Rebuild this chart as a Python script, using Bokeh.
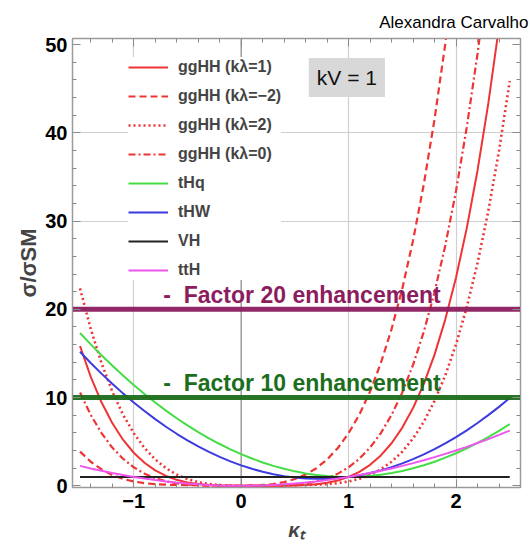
from bokeh.plotting import figure
from bokeh.models import (Range1d, Span, Label, Legend, LegendItem, LinearAxis,
                          FixedTicker)
from bokeh.embed import file_html
from bokeh.resources import INLINE

# kappa_t scan points
kappa_t = [-1.5, -1.4, -1.3, -1.2, -1.1, -1.0, -0.9, -0.8, -0.7, -0.6, -0.5,
           -0.4, -0.3, -0.2, -0.1, 0.0, 0.1, 0.2, 0.3, 0.4, 0.5, 0.6, 0.7,
           0.8, 0.9, 1.0, 1.1, 1.2, 1.3, 1.4, 1.5, 1.6, 1.7, 1.8, 1.9, 2.0,
           2.1, 2.2, 2.3, 2.4, 2.5]

# sigma / sigma_SM for each production mode (kV = 1)
gghh_kl1 = [15.84, 12.34, 9.46, 7.11, 5.22, 3.74, 2.60, 1.74, 1.11, 0.67, 0.37,
            0.19, 0.08, 0.03, 0.00, 0.00, 0.00, 0.00, 0.01, 0.01, 0.03, 0.08, 0.17,
            0.34, 0.60, 1.00, 1.58, 2.37, 3.44, 4.82, 6.59, 8.81, 11.54, 14.86, 18.86,
            23.61, 29.20, 35.74, 43.31, 52.03, 62.00]
gghh_klm2 = [3.87, 2.72, 1.86, 1.22, 0.78, 0.48, 0.29, 0.18, 0.12, 0.09, 0.07,
             0.06, 0.04, 0.03, 0.01, 0.00, 0.01, 0.07, 0.19, 0.41, 0.76, 1.27, 1.99,
             2.98, 4.28, 5.96, 8.07, 10.69, 13.90, 17.76, 22.37, 27.81, 34.18, 41.57,
             50.10, 59.87, 71.00, 83.60, 97.79, 113.72, 131.50]
gghh_kl2 = [22.37, 17.76, 13.90, 10.69, 8.07, 5.96, 4.28, 2.98, 1.99, 1.27, 0.76,
            0.41, 0.19, 0.07, 0.01, 0.00, 0.01, 0.03, 0.04, 0.06, 0.07, 0.09, 0.12,
            0.18, 0.29, 0.48, 0.78, 1.22, 1.86, 2.72, 3.87, 5.36, 7.25, 9.62, 12.52,
            16.03, 20.25, 25.24, 31.12, 37.96, 45.88]
gghh_kl0 = [10.58, 8.03, 5.97, 4.33, 3.06, 2.09, 1.37, 0.86, 0.50, 0.27, 0.13,
            0.05, 0.02, 0.00, 0.00, 0.00, 0.00, 0.00, 0.02, 0.05, 0.13, 0.27, 0.50,
            0.86, 1.37, 2.09, 3.06, 4.33, 5.97, 8.03, 10.58, 13.70, 17.46, 21.94, 27.24,
            33.44, 40.65, 48.96, 58.49, 69.34, 81.64]
thq = [17.31, 16.03, 14.80, 13.62, 12.49, 11.42, 10.40, 9.43, 8.52, 7.65, 6.84,
       6.08, 5.38, 4.73, 4.13, 3.58, 3.09, 2.64, 2.25, 1.92, 1.63, 1.40, 1.22,
       1.10, 1.02, 1.00, 1.03, 1.12, 1.25, 1.44, 1.68, 1.98, 2.32, 2.72, 3.18,
       3.68, 4.24, 4.85, 5.51, 6.22, 6.99]
thw = [15.19, 13.92, 12.71, 11.56, 10.47, 9.44, 8.47, 7.55, 6.69, 5.89, 5.15,
       4.46, 3.84, 3.27, 2.76, 2.31, 1.92, 1.58, 1.31, 1.09, 0.93, 0.83, 0.78,
       0.80, 0.87, 1.00, 1.19, 1.44, 1.74, 2.11, 2.53, 3.01, 3.55, 4.14, 4.80,
       5.51, 6.28, 7.11, 8.00, 8.94, 9.95]
vh = [1.0] * len(kappa_t)
tth = [2.25, 1.96, 1.69, 1.44, 1.21, 1.00, 0.81, 0.64, 0.49, 0.36, 0.25,
       0.16, 0.09, 0.04, 0.01, 0.00, 0.01, 0.04, 0.09, 0.16, 0.25, 0.36, 0.49,
       0.64, 0.81, 1.00, 1.21, 1.44, 1.69, 1.96, 2.25, 2.56, 2.89, 3.24, 3.61,
       4.00, 4.41, 4.84, 5.29, 5.76, 6.25]

# enhancement reference levels
factor_levels = [20, 10]
factor_texts = ["Factor 20 enhancement", "Factor 10 enhancement"]
factor_colors = ["#8c1c5e", "#1c6e1c"]

x_major = [-1, 0, 1, 2]
x_minor = [-1.4, -1.2, -0.8, -0.6, -0.4, -0.2, 0.2, 0.4, 0.6, 0.8,
           1.2, 1.4, 1.6, 1.8, 2.2, 2.4]
y_major = [0, 10, 20, 30, 40, 50]
y_minor = [2, 4, 6, 8, 12, 14, 16, 18, 22, 24, 26, 28, 32, 34, 36, 38,
           42, 44, 46, 48]

FONT = "Liberation Sans"
RED = "#ee3434"

p = figure(width=530, height=550, x_range=Range1d(-1.57, 2.6),
           y_range=Range1d(-0.2, 50.7), output_backend="svg",
           toolbar_location=None, min_border_left=72, min_border_right=10,
           min_border_top=38, min_border_bottom=63)
p.background_fill_color = "white"
p.border_fill_color = "white"
p.outline_line_color = "#9a9a9a"
p.outline_line_width = 1.5

p.title.text = "Alexandra Carvalho"
p.title.align = "right"
p.title.offset = -8
p.title.text_font = FONT
p.title.text_font_style = "normal"
p.title.text_font_size = "17px"
p.title.text_color = "black"
p.title.standoff = 13

# grid
p.xgrid.ticker = FixedTicker(ticks=[-1, 1, 2])
p.ygrid.ticker = FixedTicker(ticks=[10, 20, 30, 40])
p.xgrid.grid_line_color = "#cfcfcf"
p.ygrid.grid_line_color = "#cfcfcf"
p.xgrid.grid_line_width = 1.2
p.ygrid.grid_line_width = 1.2
p.add_layout(Span(location=0, dimension="height", line_color="#8e8e8e",
                  line_width=1.3, level="underlay"))


def style_axis(ax, ticks, minor, show_labels):
    ax.ticker = FixedTicker(ticks=ticks, minor_ticks=minor)
    ax.axis_line_color = "#9a9a9a"
    ax.major_tick_line_color = "#8a8a8a"
    ax.minor_tick_line_color = "#8a8a8a"
    ax.major_tick_in = 8
    ax.major_tick_out = 0
    ax.minor_tick_in = 4
    ax.minor_tick_out = 0
    if show_labels:
        ax.major_label_text_font = FONT
        ax.major_label_text_font_style = "bold"
        ax.major_label_text_font_size = "20px"
        ax.major_label_text_color = "black"
    else:
        ax.major_label_text_font_size = "1px"
        ax.major_label_text_color = None
        ax.major_label_standoff = 0


style_axis(p.xaxis[0], x_major, x_minor, True)
style_axis(p.yaxis[0], y_major, y_minor, True)
p.xaxis.major_label_overrides = {-1: "\u22121"}
p.xaxis.major_label_standoff = 6
p.yaxis.major_label_standoff = 5

p.xaxis.axis_label = "\u03ba\u209c"
p.xaxis.axis_label_text_font = FONT
p.xaxis.axis_label_text_font_style = "bold italic"
p.xaxis.axis_label_text_font_size = "20px"
p.xaxis.axis_label_standoff = 8
p.yaxis.axis_label = "\u03c3/\u03c3SM"
p.yaxis.axis_label_text_font = FONT
p.yaxis.axis_label_text_font_style = "bold"
p.yaxis.axis_label_text_font_size = "22px"
p.yaxis.axis_label_standoff = 1

top_axis = LinearAxis()
style_axis(top_axis, x_major, x_minor, False)
p.add_layout(top_axis, "above")
right_axis = LinearAxis()
style_axis(right_axis, y_major, y_minor, False)
p.add_layout(right_axis, "right")

# curves
r_kl1 = p.line(kappa_t, gghh_kl1, line_color=RED, line_width=2)
r_klm2 = p.line(kappa_t, gghh_klm2, line_color=RED, line_width=2.2,
                line_dash="7 4")
r_kl2 = p.line(kappa_t, gghh_kl2, line_color=RED, line_width=2.6,
               line_dash="2 3")
r_kl0 = p.line(kappa_t, gghh_kl0, line_color=RED, line_width=2.2,
               line_dash="7 3 2 3")
r_thq = p.line(kappa_t, thq, line_color="#45dd45", line_width=2)
r_thw = p.line(kappa_t, thw, line_color="#3b3be0", line_width=2)
r_vh = p.line(kappa_t, vh, line_color="#222222", line_width=2)
r_tth = p.line(kappa_t, tth, line_color="#ee55ee", line_width=2)

# enhancement levels with their captions
for lvl, txt, col in zip(factor_levels, factor_texts, factor_colors):
    p.line([-1.57, 2.6], [lvl, lvl], line_color=col, line_width=5,
           line_alpha=0.95)
    p.add_layout(Label(x=-0.725, y=lvl + 1.6, text="-\u00a0\u00a0" + txt,
                       text_font=FONT, text_font_style="bold",
                       text_font_size="23px", text_color=col,
                       text_baseline="alphabetic"))

legend = Legend(items=[
    LegendItem(label="ggHH (k\u03bb=1)", renderers=[r_kl1]),
    LegendItem(label="ggHH (k\u03bb=\u22122)", renderers=[r_klm2]),
    LegendItem(label="ggHH (k\u03bb=2)", renderers=[r_kl2]),
    LegendItem(label="ggHH (k\u03bb=0)", renderers=[r_kl0]),
    LegendItem(label="tHq", renderers=[r_thq]),
    LegendItem(label="tHW", renderers=[r_thw]),
    LegendItem(label="VH", renderers=[r_vh]),
    LegendItem(label="ttH", renderers=[r_tth]),
], location=(56, 207))
legend.label_text_font = FONT
legend.label_text_font_style = "bold"
legend.label_text_font_size = "16px"
legend.glyph_width = 40
legend.glyph_height = 20
legend.label_height = 20
legend.label_standoff = 10
legend.spacing = 9
legend.padding = 10
legend.margin = 0
legend.border_line_color = None
legend.background_fill_color = "white"
legend.background_fill_alpha = 1.0
p.add_layout(legend)

p.add_layout(Label(x=0.984, y=46.28, text="kV = 1", text_font=FONT,
                   text_font_size="21px", text_color="#111111",
                   text_align="center", text_baseline="middle",
                   background_fill_color="#d8d8d8", padding=8))

open("out.html", "w").write(file_html(p, INLINE))
